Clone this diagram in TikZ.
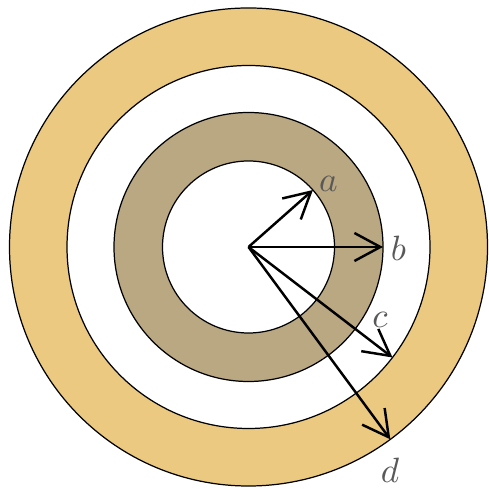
\documentclass[tikz,border=0pt]{standalone}
\usetikzlibrary{arrows.meta}
\definecolor{ringorange}{RGB}{236,201,128}
\definecolor{ringbrown}{RGB}{186,168,131}
\begin{document}
\begin{tikzpicture}[x=0.01cm, y=0.01cm, >={Straight Barb[length=0.26cm,width=0.28cm]},
  vec/.style={->, line width=0.7pt},
  ring/.style={draw=black, line width=0.35pt},
  lab/.style={text=black!65, font=\normalsize}]
  % 1. 画布范围
  \useasboundingbox (-248.5,-242) rectangle (239.5,247);

  % 2. 圆环
  \fill[ringorange] (0,0) circle (239);
  \fill[white] (0,0) circle (181.5);
  \fill[ringbrown] (0,0) circle (134.5);
  \fill[white] (0,0) circle (86);
  \foreach \r in {239, 181.5, 134.5, 86}
    \draw[ring] (0,0) circle (\r);

  % 3. 半径矢量
  \coordinate (O) at (0,0);
  \coordinate (ta) at (41.5:86);
  \coordinate (tb) at (0:134.5);
  \coordinate (tc) at (-37.5:181.5);
  \coordinate (td) at (-53.6:239);
  \draw[vec] (O) -- (ta);
  \draw[vec] (O) -- (tb);
  \draw[vec] (O) -- (tc);
  \draw[vec] (O) -- (td);

  % 4. 标注
  \node[lab] (la) at (80, 63) {$a$};
  \node[lab] (lb) at (150, -1) {$b$};
  \node[lab] (lc) at (131.5, -73) {$c$};
  \node[lab] (ld) at (141.5, -223) {$d$};
\end{tikzpicture}
\end{document}
